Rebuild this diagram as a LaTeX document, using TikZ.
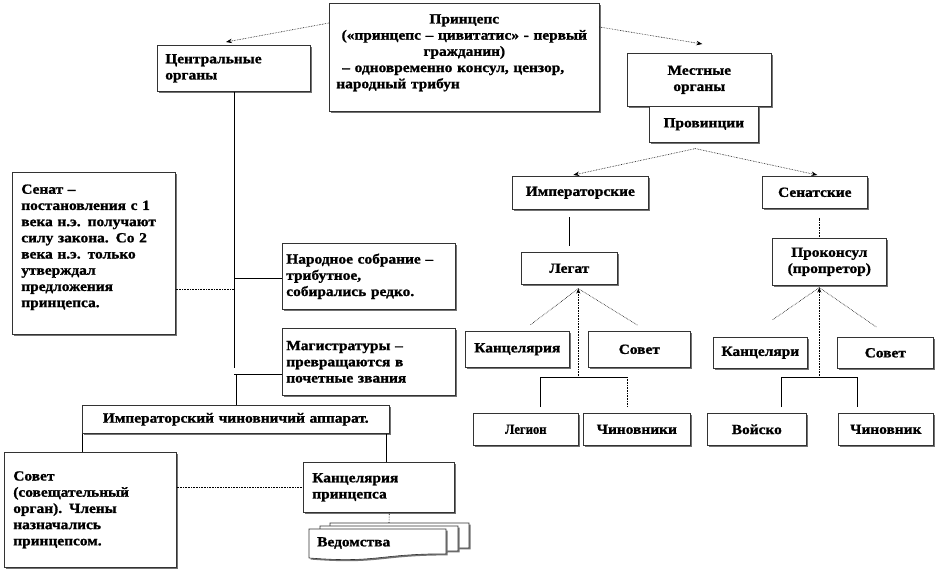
\documentclass[tikz,border=0pt]{standalone}
\usepackage{fontspec}
\usepackage{graphicx}
\newfontfamily\rf{Liberation Serif}[FakeStretch=1.1, BoldFeatures={FakeBold=1.2}]
\usetikzlibrary{shadows,calc,arrows.meta}
\tikzset{
  bx/.style={draw=black!80, line width=0.6pt, fill=white,
    drop shadow={shadow xshift=1.6pt, shadow yshift=-1.6pt, opacity=1, fill=black!55},
    inner sep=0pt, anchor=north west,
    font=\rf\bfseries\fontsize{14}{16.2}\selectfont},
  ln/.style={line width=0.6pt, black},
  dln/.style={ln, densely dotted},
  arr/.style={ln, densely dotted, -{Stealth[length=6pt,width=4.5pt]}},
  uparr/.style={ln, densely dotted, -{Stealth[length=5pt,width=4pt]}},
  docst/.style={draw=black!80, line width=0.6pt, fill=white,
    drop shadow={shadow xshift=1.6pt, shadow yshift=-1.6pt, opacity=1, fill=black!55}},
  txt/.style={inner sep=0pt, font=\rf\bfseries\fontsize{14}{16.2}\selectfont}
}
\begin{document}
\begin{tikzpicture}[x=1pt,y=-1pt]
\useasboundingbox[fill=white] (0,0) rectangle (937,569);

% top
\node[bx, minimum width=270pt, minimum height=108pt, text width=260pt, align=left] (pr) at (329,3)
 {\centering Принцепс\\(«принцепс – цивитатис» - первый\\гражданин)\par
  \raggedright\hspace*{8pt}– одновременно консул, цензор,\\\hspace*{2pt}народный трибун\par\nointerlineskip\vbox to 9pt{}};
\node[bx, minimum width=153pt, minimum height=46pt, text width=137pt, align=left] (co) at (157,45) {Центральные\\органы};
\node[bx, minimum width=144pt, minimum height=53pt, text width=140pt, align=center] (mo) at (627,53) {Местные\\органы};
\node[bx, minimum width=109pt, minimum height=36pt, text width=105pt, align=center] (prov) at (649,106) {Провинции};

% right side
\node[bx, minimum width=136pt, minimum height=33pt, text width=132pt, align=center] (imp) at (512,176) {Императорские};
\node[bx, minimum width=105pt, minimum height=32pt, text width=101pt, align=center] (sen) at (762,176) {Сенатские};
\node[bx, minimum width=96pt, minimum height=32pt, text width=92pt, align=center] (leg) at (521,252) {Легат};
\node[bx, minimum width=114pt, minimum height=47pt, text width=110pt, align=center] (pc) at (772,238) {Проконсул\\(пропретор)};
\node[bx, minimum width=104pt, minimum height=36pt, text width=100pt, align=center] (k1) at (465,331) {Канцелярия};
\node[bx, minimum width=102pt, minimum height=36pt, text width=98pt, align=center] (s1) at (588,331) {Совет};
\node[bx, minimum width=105pt, minimum height=32pt, text width=101pt, align=center] (lg) at (473,413) {\scalebox{0.82}[1]{Легион}};
\node[bx, minimum width=107pt, minimum height=32pt, text width=103pt, align=center] (ch1) at (583,413) {Чиновники};
\node[bx, minimum width=94pt, minimum height=31pt, text width=90pt, align=center] (k2) at (713,337) {Канцеляри};
\node[bx, minimum width=96pt, minimum height=31pt, text width=92pt, align=center] (s2) at (837,337) {Совет};
\node[bx, minimum width=99pt, minimum height=32pt, text width=95pt, align=center] (vo) at (707,413) {Войско};
\node[bx, minimum width=95pt, minimum height=32pt, text width=91pt, align=center] (ch2) at (838,413) {Чиновник};

% left side
\node[bx, minimum width=163pt, minimum height=162pt, text width=145pt, align=left] (sn) at (12,172)
 {Сенат –\\постановления с 1\\века н.э. получают\\силу закона. Со 2\\века н.э. только\\утверждал\\предложения\\принцепса.\par\nointerlineskip\vbox to 12pt{}};
\node[bx, minimum width=173pt, minimum height=66pt, text width=165pt, align=left] (ns) at (282,243)
 {Народное собрание –\\трибутное,\\собирались редко.};
\node[bx, minimum width=173pt, minimum height=67pt, text width=165pt, align=left] (mg) at (282,328)
 {Магистратуры –\\превращаются в\\почетные звания};
\node[bx, minimum width=307pt, minimum height=28pt, text width=303pt, align=center] (ica) at (82,405)
 {Императорский чиновничий аппарат.};
\node[bx, minimum width=172pt, minimum height=115pt, text width=154pt, align=left] (sv) at (4,452)
 {Совет\\(совещательный\\орган). Члены\\назначались\\принцепсом.};
\node[bx, minimum width=151pt, minimum height=50pt, text width=133pt, align=left] (kp) at (303,462)
 {Канцелярия\\принцепса};

% multi-document "Ведомства"
\path[docst] (330,523) -- (469,523) -- (469,523+0.8*31) .. controls (399.5,523+0.8*31) and (399.5,523+1.107*31) .. (330,523+0.934*31) -- cycle;
\path[docst] (320,526) -- (458,526) -- (458,526+0.8*31) .. controls (389,526+0.8*31) and (389,526+1.107*31) .. (320,526+0.934*31) -- cycle;
\path[docst] (309,529) -- (446,529) -- (446,529+0.8*31) .. controls (377.5,529+0.8*31) and (377.5,529+1.107*31) .. (309,529+0.934*31) -- cycle;
\node[txt, anchor=west] (ved) at (317,543) {Ведомства};
\coordinate (vtop) at (389,523);

% connectors top
\draw[arr] ($(pr.north west)+(0,20)$) -- ($(co.north west)+(69,-3)$);
\draw[arr] ($(pr.north east)+(0,24)$) -- ($(mo.north)+(3,-9)$);
\coordinate (apx) at ($(prov.south)+(-8.5,6)$);
\draw[arr] (apx) -- ($(imp.north)+(-7,-1)$);
\draw[arr] (apx) -- ($(sen.north)+(2.5,-1)$);
\draw[ln] ($(leg.north)+(0,-6)$) -- ($(imp.south -| leg.north)+(0,7)$);
\draw[dln] ($(pc.north)+(-10,-1)$) -- ($(sen.south -| pc.north)+(-10,9)$);

% legat tree
\coordinate (la) at ($(leg.south)+(9,4)$);
\coordinate (lb) at ($(leg.south)+(9,93)$);
\draw[dln] (la) -- ($(k1.north)+(13,-6)$);
\draw[dln] (la) -- ($(s1.north)+(-2,-6)$);
\draw[uparr] (lb) -- (la);
\draw[ln] ($(lg.north)+(14.5,-6)$) -- ($(lg.north)+(14.5,-36)$) -- ($(ch1.north)+(-9.5,-36)$);
\draw[dln] ($(ch1.north)+(-9.5,-36)$) -- ($(ch1.north)+(-9.5,-6)$);

% proconsul tree
\coordinate (ra) at ($(pc.south)+(-10,2)$);
\coordinate (rb) at ($(pc.south)+(-10,92)$);
\draw[dln] (ra) -- ($(k2.north)+(12,-17)$);
\draw[dln] (ra) -- ($(s2.north)+(-9,-10)$);
\draw[uparr] (rb) -- (ra);
\draw[ln] ($(vo.north)+(24.5,-6)$) -- ($(vo.north)+(24.5,-36)$) -- ($(ch2.north)+(-28.5,-36)$) -- ($(ch2.north)+(-28.5,-6)$);

% left tree
\coordinate (cvb) at ($(co.south)+(0,276)$);
\draw[ln] (co.south) -- (cvb);
\coordinate (snc) at ($(sn.east)+(0,36)$);
\draw[dln] (snc) -- (snc -| co.south);
\draw[ln] ($(ns.west)+(0,2)$) -- ($(ns.west -| co.south)+(0,2)$);
\coordinate (mgc) at ($(mg.south west)+(0,-21)$);
\draw[ln] (mgc) -- (mgc -| co.south);
\draw[ln] (ica.north) -- (ica.north |- mgc);
\draw[ln] (ica.south west) -- (ica.south west |- sv.north);
\draw[ln] ($(ica.south east)+(-3,0)$) -- ($(ica.south east |- kp.north)+(-3,0)$);
\draw[dln] (sv.east |- kp.west) -- (kp.west);
\draw[dln] ($(kp.south)+(10.5,0)$) -- (vtop);
\end{tikzpicture}
\end{document}
